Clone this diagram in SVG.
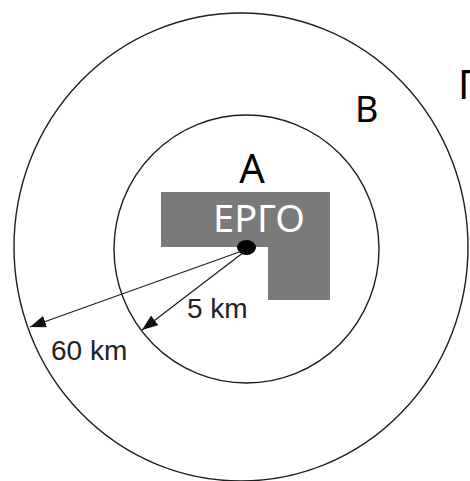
<svg xmlns="http://www.w3.org/2000/svg" width="470" height="481" viewBox="0 0 470 481">
<style>
.ring{fill:none;stroke:#1e1e1e;stroke-width:1.4}
.zone{font-family:"Noto Sans","Open Sans",sans-serif;fill:#000}
.dist{font-family:"Liberation Sans",Arial,sans-serif;font-size:28px;fill:#222}
.conn{stroke:#222;stroke-width:1.3;fill:none}
</style>
<defs>
<marker id="ah" viewBox="0 0 16 12" refX="16" refY="6" markerWidth="16" markerHeight="12" markerUnits="userSpaceOnUse" orient="auto">
<path d="M0,0 L16,6 L0,12 z" fill="#111"/>
</marker>
</defs>
<rect width="470" height="481" fill="#fff"/>
<g id="zone-outer">
<ellipse class="ring" cx="241" cy="247" rx="227" ry="234"/>
<text class="zone" x="458" y="99" font-size="40">Γ</text>
</g>
<g id="zone-inner">
<ellipse class="ring" cx="246.5" cy="249" rx="132.5" ry="134"/>
<text class="zone" x="355" y="122" font-size="36">Β</text>
</g>
<g id="ergo">
<path d="M161,192 H330 V300 H268 V247 H161 Z" fill="#7a7a7a"/>
<text class="zone" x="259" y="232" font-size="38" text-anchor="middle" fill="#fff" style="fill:#fff">ΕΡΓΟ</text>
<text class="zone" x="252" y="183" font-size="40" text-anchor="middle">Α</text>
<ellipse cx="246.5" cy="247.5" rx="9.5" ry="7.5" fill="#000"/>
</g>
<g id="connectors">
<line class="conn" x1="242" y1="251" x2="30" y2="327" marker-end="url(#ah)"/>
<line class="conn" x1="244" y1="252" x2="142" y2="330" marker-end="url(#ah)"/>
</g>
<text class="dist" x="187" y="318">5 km</text>
<text class="dist" x="51" y="360">60 km</text>
</svg>
